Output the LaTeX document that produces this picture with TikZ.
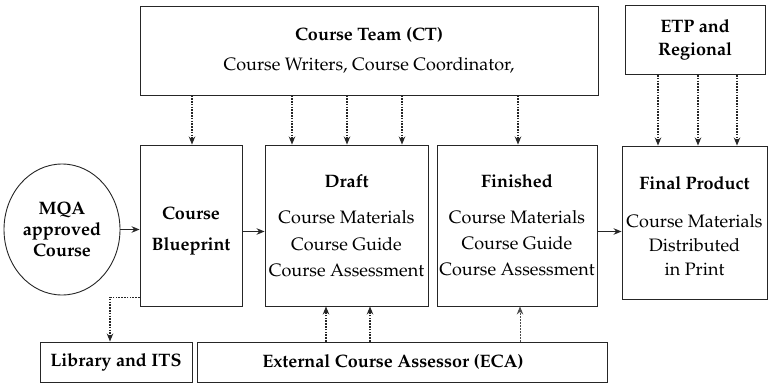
\documentclass[tikz,border=0pt]{standalone}
\usepackage[T1]{fontenc}
\renewcommand{\rmdefault}{ppl}
\usetikzlibrary{arrows.meta,shapes.geometric}
\begin{document}
\begin{tikzpicture}[x=1pt,y=-1pt,
  box/.style={draw=black!85, line width=0.9pt, inner sep=0pt, align=center},
  txt/.style={align=center, inner sep=0pt},
  fs/.style={font=\fontsize{18}{#1}\selectfont},
  solidarr/.style={-{Stealth[length=8pt,width=6.5pt]}, line width=0.9pt, draw=black!85},
  dotarr/.style={-{Stealth[length=8pt,width=6.5pt]}, line width=1.6pt, dash pattern=on 1.6pt off 1.2pt, draw=black!85},
  dotline/.style={line width=1.6pt, dash pattern=on 1.6pt off 1.2pt, draw=black!85},
  lightarr/.style={-{Stealth[length=8pt,width=6.5pt]}, line width=1pt, dash pattern=on 1.5pt off 1.5pt, draw=black!70},
]
\useasboundingbox (0,0) rectangle (772,383);

% boxes
\node[box, fs=30, minimum width=458pt, minimum height=89pt] (ct) at (369,50.5)
  {\textbf{Course Team (CT)}\\Course Writers, Course Coordinator,};
\node[box, fs=23, minimum width=140pt, minimum height=69pt] (etp) at (695,40)
  {\textbf{ETP and}\\\textbf{Regional}};
\node[box, ellipse, fs=21, minimum width=116pt, minimum height=131pt] (mqa) at (62,229.5)
  {\textbf{MQA}\\\textbf{approved}\\\textbf{Course}};
\node[box, minimum width=102pt, minimum height=161pt] (bp) at (191,225.5) {};
\node[txt, fs=31] (bpt) at (191,231.5) {\textbf{Course}\\\textbf{Blueprint}};
\node[box, fs=26.5, minimum width=163pt, minimum height=161pt] (draft) at (346.5,225.5)
  {\textbf{Draft}\\[10pt]Course Materials\\Course Guide\\Course Assessment};
\node[box, fs=26, minimum width=160pt, minimum height=161pt] (fin) at (517,225.5)
  {\textbf{Finished}\\[10pt]Course Materials\\Course Guide\\Course Assessment};
\node[box, minimum width=145pt, minimum height=153pt] (final) at (694.5,222.5) {};
\node[txt, fs=24] (finalt) at (694.5,226.5)
  {\textbf{Final Product}\\[14pt]Course Materials\\Distributed\\in Print};
\node[box, fs=24, minimum width=152pt, minimum height=40pt] (lib) at (116,362)
  {\textbf{Library and ITS}};
\node[box, minimum width=410pt, minimum height=40pt] (eca) at (402,362) {};
\node[txt, fs=24] (ecat) at (393,362) {\textbf{External Course Assessor (ECA)}};

% solid flow arrows
\draw[solidarr] (mqa.east) -- (mqa.east -| bp.west);
\coordinate (bpo) at ([yshift=-6pt]bp.east);
\draw[solidarr] (bpo) -- (bpo -| draft.west);
\coordinate (fino) at ([yshift=-6pt]fin.east);
\draw[solidarr] (fino) -- (fino -| final.west);

% course team dotted arrows
\coordinate (b1) at ([xshift=1pt]bp.north);
\coordinate (d1) at ([xshift=-54.5pt]draft.north);
\coordinate (d2) at ([xshift=0.5pt]draft.north);
\coordinate (d3) at ([xshift=55.5pt]draft.north);
\coordinate (f1) at ([xshift=1pt]fin.north);
\foreach \c in {b1,d1,d2,d3,f1}
  \draw[dotarr] (ct.south -| \c) -- (\c);

% ETP dotted arrows
\coordinate (p1) at ([xshift=-36.5pt]final.north);
\coordinate (p2) at ([xshift=3.5pt]final.north);
\coordinate (p3) at ([xshift=42.5pt]final.north);
\foreach \c in {p1,p2,p3}
  \draw[dotarr] (etp.south -| \c) -- (\c);

% ECA arrows
\coordinate (e1) at ([xshift=-20.5pt]draft.south);
\coordinate (e2) at ([xshift=23.5pt]draft.south);
\coordinate (e3) at ([xshift=3pt]fin.south);
\draw[dotarr] (eca.north -| e1) -- (e1);
\draw[dotarr] (eca.north -| e2) -- (e2);
\draw[lightarr] (eca.north -| e3) -- (e3);

% library
\coordinate (lb) at ([yshift=9pt]bp.south west);
\coordinate (lt) at ([xshift=-6pt]lib.north);
\draw[dotarr] (lb) -| (lt);
\end{tikzpicture}
\end{document}
